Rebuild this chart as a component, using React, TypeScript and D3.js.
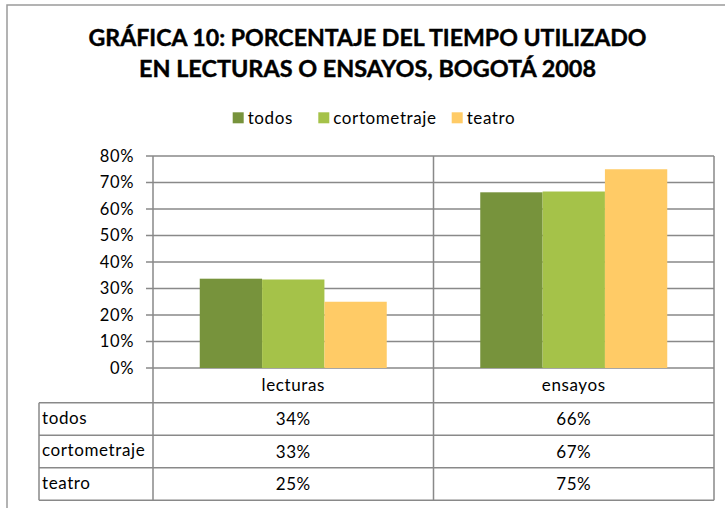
import React from "react";
import * as d3 from "d3";

const categories = ["lecturas", "ensayos"];
const seriesNames = ["todos", "cortometraje", "teatro"];
const todos = [0.337, 0.663];
const cortometraje = [0.334, 0.666];
const teatro = [0.25, 0.75];
const seriesValues = [todos, cortometraje, teatro];
const colors = ["#77933C", "#A5C249", "#FFCB66"];
const yTicks = [0, 0.1, 0.2, 0.3, 0.4, 0.5, 0.6, 0.7, 0.8];
const titleLines = [
  "GRÁFICA 10: PORCENTAJE DEL TIEMPO UTILIZADO",
  "EN LECTURAS O ENSAYOS, BOGOTÁ 2008",
];

const FONT = "Lato, 'Open Sans', sans-serif";
const GRID = "#898989";

export default function App() {
  const plotLeft = 153;
  const plotRight = 714;
  const plotTop = 156;
  const plotBottom = 368;
  const tableLeft = 39;
  const rowH = 32.5;
  const headerBottom = 402.7;
  const tableBottom = headerBottom + rowH * seriesNames.length;

  const x = d3.scaleBand<string>().domain(categories).range([plotLeft, plotRight]).paddingInner(0).paddingOuter(0);
  const y = d3.scaleLinear().domain([0, 0.8]).range([plotBottom, plotTop]);
  const bw = x.bandwidth();
  const barW = bw / (seriesNames.length + 1.5);
  const inner = d3
    .scaleBand<string>()
    .domain(seriesNames)
    .range([barW * 0.75, bw - barW * 0.75])
    .padding(0);
  const fmt = d3.format(".0%");

  const legendX = [232.7, 318.3, 451.7];
  const TXT = 17;
  const LS = 0.6;

  return (
    <svg
      width={725}
      height={508}
      style={{ position: "fixed", left: 0, top: 0, background: "#fff" }}
      fontFamily={FONT}
    >
      <rect x={0} y={0} width={725} height={508} fill="#fff" />
      <rect x={7} y={5} width={740} height={530} fill="none" stroke="#9a9a9a" strokeWidth={1.5} />

      {titleLines.map((t, i) => (
        <text
          key={i}
          x={367.5}
          y={45.5 + i * 31.5}
          textAnchor="middle"
          fontSize={22.5}
          fontWeight="bold"
          fill="#000"
          stroke="#000"
          strokeWidth={0.4}
          textLength={i === 0 ? 558 : 457}
          lengthAdjust="spacingAndGlyphs"
        >
          {t}
        </text>
      ))}

      {seriesNames.map((s, i) => (
        <g key={s}>
          <rect x={legendX[i]} y={112.3} width={11} height={11} fill={colors[i]} />
          <text x={legendX[i] + 15} y={123.5} fontSize={TXT} letterSpacing={LS} fill="#000">
            {s}
          </text>
        </g>
      ))}

      {yTicks.map((t) => (
        <g key={t}>
          <line x1={plotLeft - 7} x2={plotRight} y1={y(t)} y2={y(t)} stroke={GRID} strokeWidth={1.5} />
          <text x={134} y={y(t) + 5.5} textAnchor="end" fontSize={16.5} letterSpacing={LS} fill="#000">
            {fmt(t)}
          </text>
        </g>
      ))}

      {categories.map((c, ci) => (
        <g key={c} transform={`translate(${x(c)},0)`}>
          {seriesNames.map((s, si) => (
            <rect
              key={s}
              x={inner(s)}
              y={y(seriesValues[si][ci])}
              width={inner.bandwidth()}
              height={plotBottom - y(seriesValues[si][ci])}
              fill={colors[si]}
            />
          ))}
        </g>
      ))}

      {[plotLeft, ...categories.map((c) => (x(c) as number) + bw)].map((vx, i) => (
        <line key={i} x1={vx} x2={vx} y1={plotTop} y2={tableBottom} stroke={GRID} strokeWidth={1.5} />
      ))}
      <line x1={tableLeft} x2={tableLeft} y1={headerBottom} y2={tableBottom} stroke={GRID} strokeWidth={1.5} />

      {d3.range(seriesNames.length + 1).map((r) => (
        <line
          key={r}
          x1={tableLeft}
          x2={plotRight}
          y1={headerBottom + r * rowH}
          y2={headerBottom + r * rowH}
          stroke={GRID}
          strokeWidth={1.5}
        />
      ))}

      {categories.map((c) => (
        <text key={c} x={(x(c) as number) + bw / 2} y={390.5} textAnchor="middle" fontSize={TXT} letterSpacing={LS} fill="#000">
          {c}
        </text>
      ))}

      {seriesNames.map((s, si) => (
        <g key={s}>
          <text x={tableLeft + 3} y={headerBottom + si * rowH + 21} fontSize={TXT} letterSpacing={LS} fill="#000">
            {s}
          </text>
          {categories.map((c, ci) => (
            <text
              key={c}
              x={(x(c) as number) + bw / 2}
              y={headerBottom + si * rowH + 22.5}
              textAnchor="middle"
              fontSize={TXT}
              letterSpacing={LS}
              fill="#000"
            >
              {fmt(seriesValues[si][ci])}
            </text>
          ))}
        </g>
      ))}
    </svg>
  );
}
